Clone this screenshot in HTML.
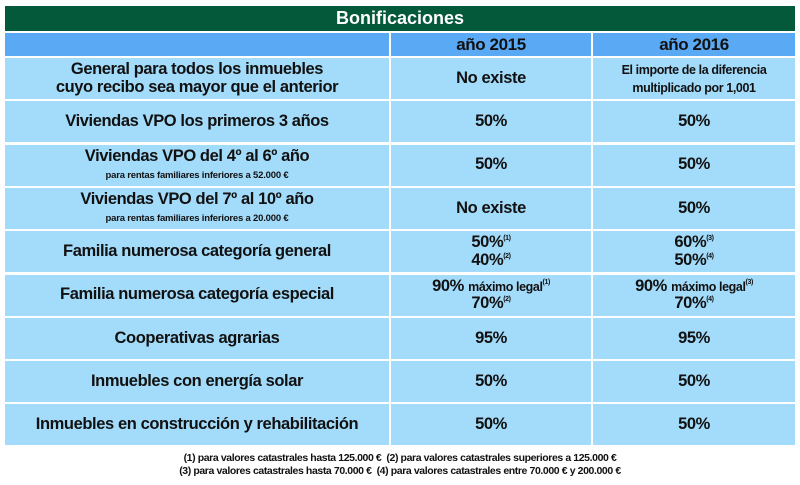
<!DOCTYPE html>
<html><head><meta charset="utf-8"><style>
body{margin:0;width:800px;height:485px;background:#fff;position:relative;overflow:hidden;font-family:"Liberation Sans",sans-serif;font-weight:bold;color:#111;}
.c{position:absolute;display:flex;flex-direction:column;align-items:center;justify-content:center;text-align:center;background:#a3dbfa;line-height:1.05;font-size:16.5px;letter-spacing:-0.4px}
.h{background:#5aa9f5;font-size:17px}
.s{font-size:9.5px;letter-spacing:-0.2px}
.m{font-size:12.5px}
sup{font-size:7px;vertical-align:7px;line-height:0}
#title{position:absolute;left:5px;top:6px;width:790px;height:25px;background:#05593b;color:#fff;font-size:18px;display:flex;align-items:center;justify-content:center}
.fn{position:absolute;left:0;width:800px;text-align:center;font-size:10.5px;letter-spacing:-0.4px}
</style></head><body>
<div id="title">Bonificaciones</div>
<div class="c h" style="left:5px;top:33px;width:384px;height:23px"></div>
<div class="c h" style="left:391px;top:33px;width:200px;height:23px">año 2015</div>
<div class="c h" style="left:593px;top:33px;width:202px;height:23px">año 2016</div>
<div id="rows"></div>
<div class="fn" style="top:452px">(1) para valores catastrales hasta 125.000 € &nbsp;(2) para valores catastrales superiores a 125.000 €</div>
<div class="fn" style="top:465px">(3) para valores catastrales hasta 70.000 € &nbsp;(4) para valores catastrales entre 70.000 € y 200.000 €</div>
<script>
const labels=['General para todos los inmuebles<br>cuyo recibo sea mayor que el anterior','Viviendas VPO los primeros 3 años','Viviendas VPO del 4º al 6º año<br><span class="s">para rentas familiares inferiores a 52.000 €</span>','Viviendas VPO del 7º al 10º año<br><span class="s">para rentas familiares inferiores a 20.000 €</span>','Familia numerosa categoría general','Familia numerosa categoría especial','Cooperativas agrarias','Inmuebles con energía solar','Inmuebles en construcción y rehabilitación'];
const v2015=['No existe','50%','50%','No existe','50%<sup>(1)</sup><br>40%<sup>(2)</sup>','90% <span class="m">máximo legal</span><sup>(1)</sup><br>70%<sup>(2)</sup>','95%','50%','50%'];
const v2016=['<span class="m">El importe de la diferencia<br>multiplicado por 1,001</span>','50%','50%','50%','60%<sup>(3)</sup><br>50%<sup>(4)</sup>','90% <span class="m">máximo legal</span><sup>(3)</sup><br>70%<sup>(4)</sup>','95%','50%','50%'];
const R=document.getElementById('rows');
labels.forEach((l,i)=>{
  const top=58+i*43.3;
  [[5,384,l,'label'],[391,200,v2015[i],'value-2015'],[593,202,v2016[i],'value-2016']].forEach(([x,w,t,n])=>{
    const d=document.createElement('div');
    d.className='c';
    d.style.cssText=`left:${x}px;top:${top}px;width:${w}px;height:41px`;
    d.innerHTML='<div>'+t+'</div>';
    
    
    R.appendChild(d);
  });
});
</script>
</body></html>
